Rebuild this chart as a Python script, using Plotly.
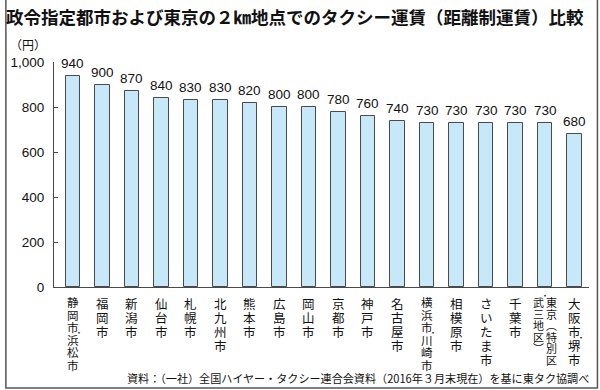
import plotly.graph_objects as go

# ---- data ----
cities = ["静岡市・浜松市", "福岡市", "新潟市", "仙台市", "札幌市", "北九州市", "熊本市",
          "広島市", "岡山市", "京都市", "神戸市", "名古屋市", "横浜市・川崎市", "相模原市",
          "さいたま市", "千葉市", "東京（特別区\n・武三地区）", "大阪市・堺市"]
fares = [940, 900, 870, 840, 830, 830, 820, 800, 800, 780, 760, 740, 730, 730, 730, 730, 730, 680]
y_ticks = [0, 200, 400, 600, 800, 1000]
title_text = "政令指定都市および東京の２㎞地点でのタクシー運賃（距離制運賃）比較"
unit_text = "（円）"
source_text = "資料：（一社）全国ハイヤー・タクシー連合会資料（2016年３月末現在）を基に東タク協調べ"

# ---- layout constants ----
W, H = 600, 390
ML, MR, MT, MB = 50, 11, 62, 103
PW, PH = W - ML - MR, H - MT - MB
JP = "Noto Sans CJK JP"
NUM = "Liberation Sans, Arial, sans-serif"
INK = "#111"
xs = list(range(len(cities)))

fig = go.Figure(go.Bar(
    x=xs, y=fares, width=0.5,
    marker=dict(color="#c6e8f8", line=dict(color="#4a4a4a", width=1)),
    hoverinfo="skip",
))

ann = []
# value labels
for x, v in zip(xs, fares):
    ann.append(dict(x=x, y=v, xref="x", yref="y", text=f"{v:,}", showarrow=False,
                    yanchor="bottom", yshift=3, font=dict(family=NUM, size=13.5, color=INK)))

# vertical category labels (one text per column, tight line pitch)
vert = {"（": "︵", "）": "︶"}
for x, lab in zip(xs, cities):
    cols = lab.split("\n")
    n = len(cols)
    for c, col in enumerate(cols):
        xshift = ((n - 1) / 2 - c) * 13
        chars = [ch for ch in col if ch != "・"]
        if n == 1:
            pitch = min(14.0, 75 / len(chars))
            glyph = 12.5 if len(chars) < 6 else 11.5
        else:
            pitch, glyph = 11.5, 11
        base = pitch / 1.3
        text = "<br>".join(f'<span style="font-size:{glyph}px">{vert.get(ch, ch)}</span>' for ch in chars)
        ann.append(dict(x=x, y=0, xref="x", yref="paper", text=text, showarrow=False,
                        xanchor="center", yanchor="top", xshift=xshift, yshift=-5,
                        font=dict(family=JP, size=base, color=INK)))
        # middle dots drawn at the boundary between characters
        k = 0
        for ch in col:
            if ch == "・":
                ann.append(dict(x=x, y=0, xref="x", yref="paper", text="・", showarrow=False,
                                xanchor="center", yanchor="middle", xshift=xshift + 6,
                                yshift=-(8 + k * pitch), font=dict(family=JP, size=8, color=INK)))
            else:
                k += 1

# title, unit, source
ann.append(dict(x=(0 - ML) / PW, y=1, xref="paper", yref="paper", text=f"<b>{title_text}</b>",
                showarrow=False, xanchor="left", yanchor="middle", yshift=MT - 16,
                font=dict(family=JP, size=17.5, color=INK)))
ann.append(dict(x=(24 - ML) / PW, y=1, xref="paper", yref="paper", text=unit_text, showarrow=False,
                xanchor="center", yanchor="middle", yshift=MT - 44,
                font=dict(family=JP, size=12, color=INK)))
ann.append(dict(x=(591 - ML) / PW, y=0, xref="paper", yref="paper", text=source_text, showarrow=False,
                xanchor="right", yanchor="middle", yshift=-(378 - (H - MB)),
                font=dict(family=JP, size=11.1, color=INK)))

# outer frame (left, bottom, right)
lx, rx = (1.5 - ML) / PW, (597.5 - ML) / PW
by, ty = ((H - MB) - 388) / PH, (H - MB + 5) / PH
fig.add_shape(type="path", xref="paper", yref="paper",
              path=f"M {lx},{ty} L {lx},{by} L {rx},{by} L {rx},{ty}",
              line=dict(color="#555", width=1.5))

fig.update_layout(
    width=W, height=H, margin=dict(l=ML, r=MR, t=MT, b=MB),
    paper_bgcolor="white", plot_bgcolor="white", showlegend=False,
    annotations=ann, bargap=0,
    xaxis=dict(range=[-0.64, 17.49], showticklabels=False, ticks="", showgrid=False,
               zeroline=False, showline=True, linecolor="#4a4a4a", linewidth=1),
    yaxis=dict(range=[0, 1000], tickvals=y_ticks, tickformat=",d", ticks="inside", ticklen=4,
               tickcolor="#4a4a4a", showgrid=False, zeroline=False, showline=True,
               linecolor="#4a4a4a", linewidth=1, ticklabelstandoff=6,
               tickfont=dict(family=NUM, size=13.5, color=INK)),
)

fig.write_html("out.html", config={"displayModeBar": False},
               post_script="document.body.style.margin='0';document.body.style.overflow='hidden';")
